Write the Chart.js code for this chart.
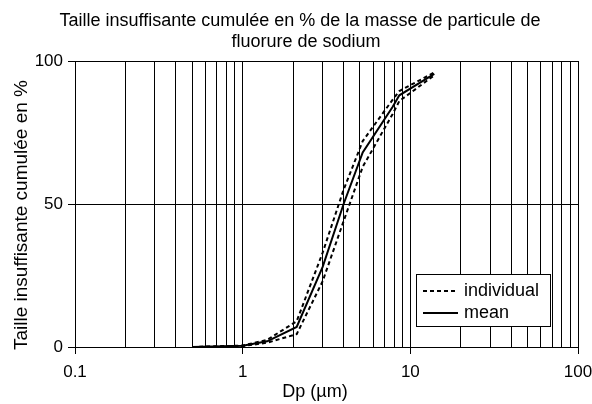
<!DOCTYPE html>
<html>
<head>
<meta charset="utf-8">
<script src="https://cdn.jsdelivr.net/npm/chart.js@4.4.1/dist/chart.umd.min.js"></script>
<style>
  html, body { margin: 0; padding: 0; background: #ffffff; }
  #wrap { width: 592px; height: 404px; }
</style>
</head>
<body>
<div id="wrap"><canvas id="chart" width="592" height="404"></canvas></div>
<script>
// Cumulative undersize distribution (% of mass) of sodium fluoride particles
const chartTitle = ['Taille insuffisante cumulée en % de la masse de particule de', 'fluorure de sodium'];
const xAxisTitle = 'Dp (µm)';
const yAxisTitle = 'Taille insuffisante cumulée en %';

// particle diameter, µm
const diameters = [0.5, 1, 1.4, 2.1, 3, 4, 5.2, 7.85, 8.6, 13.9];
// mean of the runs
const meanValues = [0, 0.4, 2, 7, 28, 50, 68, 84, 88, 95.5];
// individual runs
const individualRunA = [0, 0.5, 2.5, 9, 33, 55, 72, 86.5, 89.5, 96];
const individualRunB = [0, 0.3, 1.5, 4.5, 23, 44, 63, 81.5, 86, 95];

const xMajorTicks = [0.1, 1, 10, 100];
const xTickLabels = ['0.1', '1', '10', '100'];
const yTickValues = [0, 50, 100];

const FONT = '"Liberation Sans", Arial, Helvetica, sans-serif';

const toPoints = (ys) => diameters.map((d, i) => ({ x: d, y: ys[i] }));

// grid lines at every 1..9 multiple of each decade
function decadeTicks() {
  const out = [];
  for (let e = 0; e < xMajorTicks.length - 1; e++) {
    for (let m = 1; m <= 9; m++) {
      out.push(Math.round(m * xMajorTicks[e] * 1000) / 1000);
    }
  }
  out.push(xMajorTicks[xMajorTicks.length - 1]);
  return out;
}
const isMajor = (v) => xMajorTicks.some(t => Math.abs(t - v) < 1e-9);

// titles drawn on the canvas
const titlesPlugin = {
  id: 'titles',
  afterDraw(chart) {
    const { ctx } = chart;
    ctx.save();
    ctx.fillStyle = '#000';
    ctx.textAlign = 'center';
    ctx.textBaseline = 'alphabetic';
    ctx.font = '18px ' + FONT;
    ctx.fillText(chartTitle[0], 300, 26);
    ctx.fillText(chartTitle[1], 306, 47);
    ctx.fillText(xAxisTitle, 315, 397);
    ctx.font = '19px ' + FONT;
    ctx.translate(27, 215);
    ctx.rotate(-Math.PI / 2);
    ctx.fillText(yAxisTitle, 0, 0);
    ctx.restore();
  }
};

// framed legend inside the plot area, one entry per distinct label
const boxLegendPlugin = {
  id: 'boxLegend',
  afterDatasetsDraw(chart) {
    const { ctx } = chart;
    const seen = new Set();
    const items = [];
    chart.data.datasets.forEach(ds => {
      if (!seen.has(ds.label)) { seen.add(ds.label); items.push(ds); }
    });
    const x0 = 416, y0 = 274, w = 135, h = 53;
    ctx.save();
    ctx.fillStyle = '#fff';
    ctx.fillRect(x0, y0, w, h);
    ctx.strokeStyle = '#000';
    ctx.lineWidth = 1;
    ctx.strokeRect(x0 + 0.5, y0 + 0.5, w - 1, h - 1);
    ctx.font = '18px ' + FONT;
    ctx.textBaseline = 'middle';
    ctx.textAlign = 'left';
    items.forEach((ds, i) => {
      const cy = y0 + 17 + i * 22;
      ctx.beginPath();
      ctx.setLineDash(ds.borderDash || []);
      ctx.lineWidth = ds.borderWidth;
      ctx.strokeStyle = ds.borderColor;
      ctx.moveTo(x0 + 7, cy);
      ctx.lineTo(x0 + 42, cy);
      ctx.stroke();
      ctx.setLineDash([]);
      ctx.fillStyle = '#000';
      ctx.fillText(ds.label, x0 + 48, cy);
    });
    ctx.restore();
  }
};

new Chart(document.getElementById('chart'), {
  type: 'line',
  data: {
    datasets: [
      { label: 'individual', data: toPoints(individualRunA), borderColor: '#000', borderWidth: 2, borderDash: [4, 3], pointRadius: 0, fill: false, tension: 0 },
      { label: 'individual', data: toPoints(individualRunB), borderColor: '#000', borderWidth: 2, borderDash: [4, 3], pointRadius: 0, fill: false, tension: 0 },
      { label: 'mean', data: toPoints(meanValues), borderColor: '#000', borderWidth: 2, pointRadius: 0, fill: false, tension: 0 }
    ]
  },
  options: {
    responsive: false,
    animation: false,
    devicePixelRatio: 1,
    layout: { padding: { top: 61, right: 14, left: 0, bottom: 0 } },
    plugins: { legend: { display: false }, title: { display: false }, tooltip: { enabled: false } },
    scales: {
      x: {
        type: 'logarithmic',
        min: xMajorTicks[0],
        max: xMajorTicks[xMajorTicks.length - 1],
        afterBuildTicks(scale) {
          scale.ticks = decadeTicks().map(v => ({ value: v, major: isMajor(v) }));
        },
        afterFit(scale) {
          scale.height = 57;
          scale.paddingLeft = 0;
          scale.paddingRight = 0;
        },
        ticks: {
          autoSkip: false,
          maxRotation: 0,
          padding: 8,
          color: '#000',
          font: { family: FONT, size: 17 },
          callback(value) {
            const i = xMajorTicks.findIndex(t => Math.abs(t - value) < 1e-9);
            return i >= 0 ? xTickLabels[i] : '';
          }
        },
        grid: {
          color: '#000',
          lineWidth: 1,
          tickLength: 7,
          tickColor: (c) => (c.tick && isMajor(c.tick.value)) ? '#000' : 'rgba(0,0,0,0)'
        },
        border: { color: '#000', width: 1 }
      },
      y: {
        type: 'linear',
        min: 0,
        max: 100,
        afterBuildTicks(scale) {
          scale.ticks = yTickValues.map(v => ({ value: v }));
        },
        afterFit(scale) {
          scale.width = 75;
          scale.paddingTop = 0;
          scale.paddingBottom = 0;
        },
        ticks: {
          padding: 5,
          color: '#000',
          font: { family: FONT, size: 17 }
        },
        grid: { color: '#000', lineWidth: 1, tickLength: 7, tickColor: '#000' },
        border: { color: '#000', width: 1 }
      }
    }
  },
  plugins: [titlesPlugin, boxLegendPlugin]
});
</script>
</body>
</html>
